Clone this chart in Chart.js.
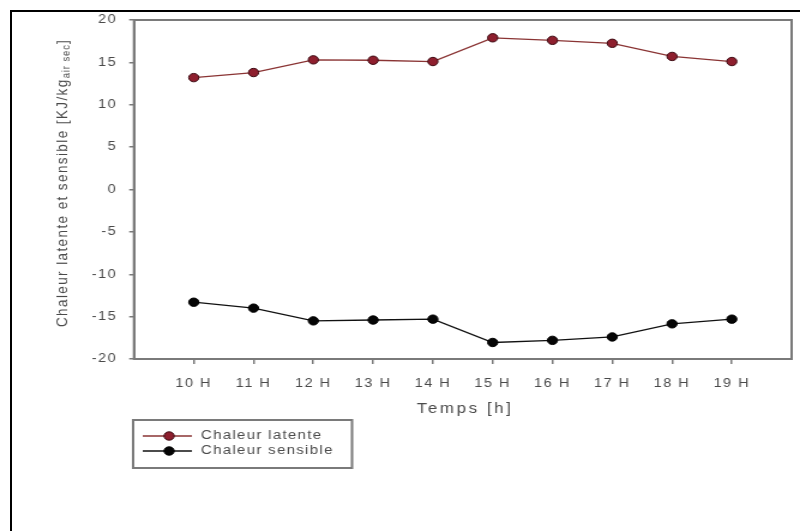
<!DOCTYPE html>
<html>
<head>
<meta charset="utf-8">
<script src="https://cdn.jsdelivr.net/npm/chart.js@4/dist/chart.umd.min.js"></script>
<style>
  html, body { margin: 0; padding: 0; background: #fff; }
  body { position: relative; width: 800px; height: 531px; overflow: hidden; }
  .rule { position: absolute; background: #000; }
  #ruleTop { left: 10px; top: 10px; width: 790px; height: 2px; }
  #ruleLeft { left: 10px; top: 10px; width: 2px; height: 521px; }
  #wrap { position: absolute; left: 0; top: 0; width: 667px; height: 531px; transform: scaleX(1.1994); transform-origin: 0 0; }
  canvas { display: block; }
</style>
</head>
<body>
<div id="wrap"><canvas id="c" width="667" height="531" style="width:667px;height:531px"></canvas></div>
<div class="rule" id="ruleTop"></div>
<div class="rule" id="ruleLeft"></div>
<script>
// Hourly heat balance, 10 H to 19 H
const hours = [10, 11, 12, 13, 14, 15, 16, 17, 18, 19];
const hourLabels = ['10 H', '11 H', '12 H', '13 H', '14 H', '15 H', '16 H', '17 H', '18 H', '19 H'];
const latentHeat = [13.2, 13.8, 15.3, 15.25, 15.1, 17.9, 17.6, 17.25, 15.7, 15.1];
const sensibleHeat = [-13.3, -14.0, -15.5, -15.4, -15.3, -18.05, -17.8, -17.4, -15.85, -15.3];
const yTicks = [-20, -15, -10, -5, 0, 5, 10, 15, 20];

const FONT = '"Liberation Sans", Arial, sans-serif';
const AXIS = '#7a7a7a';
const TEXT = '#4a4a4a';

const series = [
  { label: 'Chaleur latente', values: latentHeat, line: '#8a3434', fill: '#8e1f2e', edge: '#3c0a12' },
  { label: 'Chaleur sensible', values: sensibleHeat, line: '#111111', fill: '#050505', edge: '#000000' }
];

function setSpacing(ctx, px) {
  if ('letterSpacing' in ctx) ctx.letterSpacing = px + 'px';
}

// plot frame, y-axis title with subscript, legend box
const decorations = {
  id: 'decorations',
  beforeDraw(chart) { setSpacing(chart.ctx, 1.3); },
  afterDraw(chart) {
    const ctx = chart.ctx;
    const a = chart.chartArea;
    ctx.save();
    setSpacing(ctx, 0);
    ctx.strokeStyle = AXIS;
    ctx.lineWidth = 2;
    ctx.strokeRect(a.left, a.top, a.right - a.left, a.bottom - a.top);

    // y title
    ctx.fillStyle = TEXT;
    ctx.translate(52.5, 183);
    ctx.rotate(-Math.PI / 2);
    const mainTxt = 'Chaleur latente et sensible [KJ/kg';
    const subTxt = 'air sec';
    const endTxt = ']';
    ctx.textBaseline = 'middle';
    ctx.textAlign = 'left';
    const big = '13.5px ' + FONT;
    const small = '9.5px ' + FONT;
    ctx.font = big;
    setSpacing(ctx, 1.4);
    const w1 = ctx.measureText(mainTxt).width;
    const w3 = ctx.measureText(endTxt).width;
    ctx.font = small;
    setSpacing(ctx, 0.9);
    const w2 = ctx.measureText(subTxt).width;
    let x = -(w1 + w2 + w3) / 2;
    ctx.font = big;
    setSpacing(ctx, 1.4);
    ctx.fillText(mainTxt, x, 0);
    x += w1;
    ctx.font = small;
    setSpacing(ctx, 0.9);
    ctx.fillText(subTxt, x, 3);
    x += w2;
    ctx.font = big;
    setSpacing(ctx, 1.4);
    ctx.fillText(endTxt, x, 0);
    ctx.restore();

    // x title
    ctx.save();
    ctx.fillStyle = TEXT;
    ctx.font = '14px ' + FONT;
    setSpacing(ctx, 2.2);
    ctx.textAlign = 'center';
    ctx.textBaseline = 'middle';
    ctx.fillText('Temps [h]', (a.left + a.right) / 2 + 2, 409);
    ctx.restore();

    // legend
    ctx.save();
    ctx.strokeStyle = AXIS;
    ctx.lineWidth = 2;
    ctx.strokeRect(111, 420, 182.5, 48);
    const rows = [436, 451];
    chart.data.datasets.forEach((ds, i) => {
      const y = rows[i];
      ctx.strokeStyle = ds.borderColor;
      ctx.lineWidth = 1.3;
      ctx.beginPath();
      ctx.moveTo(119, y);
      ctx.lineTo(160, y);
      ctx.stroke();
      ctx.beginPath();
      ctx.arc(141, y, 4.2, 0, Math.PI * 2);
      ctx.fillStyle = ds.pointBackgroundColor;
      ctx.fill();
      ctx.strokeStyle = ds.pointBorderColor;
      ctx.lineWidth = 1;
      ctx.stroke();
      ctx.fillStyle = TEXT;
      ctx.font = '12.5px ' + FONT;
      setSpacing(ctx, 1.1);
      ctx.textAlign = 'left';
      ctx.textBaseline = 'middle';
      ctx.fillText(ds.label, 167.5, y);
    });
    ctx.restore();
  }
};

new Chart(document.getElementById('c'), {
  type: 'line',
  data: {
    datasets: series.map(s => ({
      label: s.label,
      data: hours.map((h, i) => ({ x: h, y: s.values[i] })),
      borderColor: s.line,
      borderWidth: 1.3,
      pointBackgroundColor: s.fill,
      pointBorderColor: s.edge,
      pointBorderWidth: 1,
      pointRadius: 4.2,
      tension: 0,
      fill: false
    }))
  },
  options: {
    responsive: false,
    animation: false,
    devicePixelRatio: 1,
    layout: { padding: { top: 20, right: 7, bottom: 0, left: 0 } },
    plugins: { legend: { display: false }, tooltip: { enabled: false } },
    scales: {
      x: {
        type: 'linear',
        min: 9,
        max: 20,
        afterBuildTicks(scale) { scale.ticks = hours.map(v => ({ value: v })); },
        afterFit(scale) { scale.height = 172; },
        ticks: {
          color: TEXT,
          font: { family: FONT, size: 12 },
          padding: 12,
          maxRotation: 0,
          callback(v) { const i = hours.indexOf(v); return i >= 0 ? hourLabels[i] : ''; }
        },
        grid: { drawOnChartArea: false, drawTicks: true, tickLength: 5, color: AXIS, lineWidth: 1.5 },
        border: { display: true, color: AXIS, width: 2 }
      },
      y: {
        min: -20,
        max: 20,
        afterBuildTicks(scale) { scale.ticks = yTicks.map(v => ({ value: v })); },
        afterFit(scale) { scale.width = 111.7; },
        ticks: {
          color: TEXT,
          font: { family: FONT, size: 12 },
          padding: 10
        },
        grid: { drawOnChartArea: false, drawTicks: true, tickLength: 4, color: AXIS, lineWidth: 1.5 },
        border: { display: true, color: AXIS, width: 2 }
      }
    }
  },
  plugins: [decorations]
});
</script>
</body>
</html>
